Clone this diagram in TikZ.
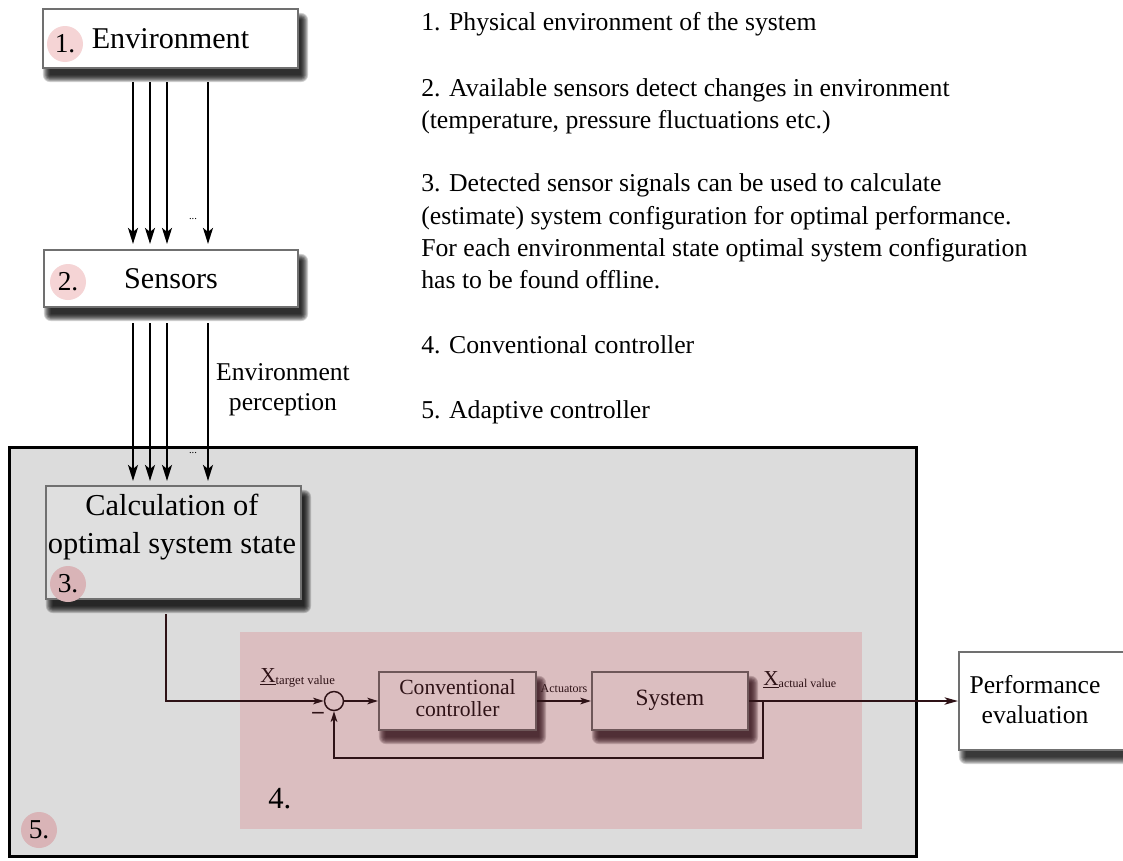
\documentclass[tikz,border=0pt]{standalone}
\usepackage{fontspec}
\setmainfont{Liberation Serif}
\usetikzlibrary{arrows.meta}

\definecolor{panelgray}{HTML}{DCDCDC}
\definecolor{loopbg}{HTML}{DBBEC0}
\definecolor{boxedge}{HTML}{707070}
\definecolor{loopedge}{HTML}{6E5759}
\definecolor{loopline}{HTML}{2E1216}
\definecolor{maroonshade}{HTML}{3C1A22}
\definecolor{markpale}{HTML}{F5D4D5}
\definecolor{markdeep}{HTML}{D9B4B7}
\definecolor{calcfill}{HTML}{DFDFDF}

\pgfdeclarelayer{panels}
\pgfdeclarelayer{shades}
\pgfsetlayers{panels,shades,main}

% soft drop shadow under node #1, colour #2, strength #3 (opacity per ring)
\newcommand\castshade[3]{%
  \begin{pgfonlayer}{shades}
    \foreach \k in {0,...,7} {
      \pgfmathsetmacro\nwx{(8-\k)*0.75}
      \pgfmathsetmacro\nwy{-(12-\k)*0.75}
      \pgfmathsetmacro\sex{(2+\k)*0.75}
      \pgfmathsetmacro\sey{-(6+\k)*0.75}
      \pgfmathsetmacro\rc{\k*0.75+0.01}
      \fill[#2, opacity=#3, rounded corners=\rc pt]
        ([xshift=\nwx pt, yshift=\nwy pt]#1.north west) rectangle
        ([xshift=\sex pt, yshift=\sey pt]#1.south east);
    }
  \end{pgfonlayer}}

\tikzset{
  whitebox/.style={draw=boxedge, line width=1.6pt, fill=white,
    inner sep=0pt, font=\fontsize{22.6}{26}\selectfont},
  calcbox/.style={draw=boxedge, line width=1.6pt, fill=calcfill, inner sep=0pt},
  loopbox/.style={draw=loopedge, line width=1.6pt, fill=loopbg, inner sep=0pt},
  marka/.style={circle, fill=markpale, minimum size=27pt, inner sep=0pt,
    font=\fontsize{20.5}{20.5}\selectfont},
  markb/.style={circle, fill=markdeep, minimum size=27pt, inner sep=0pt,
    font=\fontsize{20.5}{20.5}\selectfont},
  rtext/.style={anchor=base west, inner sep=0pt, font=\fontsize{19.3}{23}\selectfont},
  midtext/.style={anchor=base, inner sep=0pt, font=\fontsize{19.2}{23}\selectfont},
  boxtext/.style={anchor=base, inner sep=0pt, font=\fontsize{22.8}{26}\selectfont},
  looptext/.style={inner sep=0pt, text=loopline, font=\fontsize{16.2}{16.4}\selectfont},
  sigarrow/.style={line width=1.5pt, -{Stealth[length=12pt, width=7.5pt, inset=3pt]}},
  looparrow/.style={draw=loopline, line width=1.1pt, -{Stealth[length=8pt, width=5pt, inset=2pt]}},
  outarrow/.style={draw=loopline, line width=1.2pt, -{Stealth[length=10pt, width=5.5pt, inset=2.5pt]}},
  dots/.style={inner sep=0pt, font=\fontsize{8}{8}\selectfont}
}

\begin{document}
\begin{tikzpicture}[x=0.75pt, y=-0.75pt]
\clip (0,0) rectangle (1123,860);

% 5: adaptive controller panel and 4: conventional controller area
\begin{pgfonlayer}{panels}
  \fill[white] (0,0) rectangle (1123,860);
  \node[draw=black, line width=2.2pt, fill=panelgray, inner sep=0pt,
    minimum width=680.25pt, minimum height=306.75pt] (adaptive) at (463,652) {};
  \node[fill=loopbg, inner sep=0pt, minimum width=466.5pt, minimum height=147.75pt]
    (conventional) at (551,730.5) {};
\end{pgfonlayer}

% right-hand legend
\node[rtext] (r1) at (421,30)  {1. Physical environment of the system};
\node[rtext] (r2) at (421,96)  {2. Available sensors detect changes in environment};
\node[rtext] (r3) at (421,128) {(temperature, pressure fluctuations etc.)};
\node[rtext] (r4) at (421,191) {3. Detected sensor signals can be used to calculate};
\node[rtext] (r5) at (421,224) {(estimate) system configuration for optimal performance.};
\node[rtext] (r6) at (421,256) {For each environmental state optimal system configuration};
\node[rtext] (r7) at (421,288) {has to be found offline.};
\node[rtext] (r8) at (421,353) {4. Conventional controller};
\node[rtext] (r9) at (421,418) {5. Adaptive controller};

% environment and sensors
\node[whitebox, minimum width=191.25pt, minimum height=44.25pt] (env) at (170.5,38.5) {Environment};
\castshade{env}{black}{0.19}
\node[marka] (m1) at (65,44) {1.};
\node[whitebox, minimum width=190.5pt, minimum height=42.75pt] (sensors) at (171,278.5) {Sensors};
\castshade{sensors}{black}{0.19}
\node[marka] (m2) at (68,282) {2.};

\foreach \xx in {133,150,167,208}
  \draw[sigarrow, shorten <=9.75pt, shorten >=3.75pt] (\xx,0 |- env.south) -- (\xx,0 |- sensors.north);
\node[dots] (dotsa) at (193,219) {...};

% estimation of the optimal state
\node[calcbox, minimum width=191.25pt, minimum height=84.75pt] (calc) at (173.5,542.5) {};
\castshade{calc}{black}{0.19}
\node[boxtext] (calca) at (172,515) {Calculation of};
\node[boxtext] (calcb) at (172,553) {optimal system state};
\node[markb] (m3) at (68,584) {3.};

\foreach \xx in {133,150,167,208}
  \draw[sigarrow, shorten <=11.25pt, shorten >=3pt] (\xx,0 |- sensors.south) -- (\xx,0 |- calc.north);
\node[dots] (dotsb) at (193,453) {...};
\node[midtext] (pera) at (283,380) {Environment};
\node[midtext] (perb) at (283,410) {perception};

% control loop
\node[circle, draw=loopline, line width=1.1pt, fill=loopbg, minimum size=14.25pt, inner sep=0pt]
  (sum) at (334,701) {};
\node[anchor=base, inner sep=0pt, text=loopline, font=\fontsize{17}{17}\selectfont\bfseries]
  (minus) at (318,718) {–};
\node[loopbox, minimum width=117.75pt, minimum height=43.5pt] (conv) at (457.5,701) {};
\castshade{conv}{maroonshade}{0.22}
\node[looptext, align=center] (convl) at (457.5,698) {Conventional\\controller};
\node[loopbox, minimum width=117pt, minimum height=43.5pt] (sys) at (670,701) {};
\castshade{sys}{maroonshade}{0.22}
\node[looptext, anchor=base, font=\fontsize{17.5}{17.5}\selectfont] (sysl) at (670,705) {System};

\node[anchor=base west, inner sep=0pt, text=loopline] (xtarget) at (260,682)
  {\fontsize{16}{16}\selectfont\underline{X}\raisebox{-2pt}{\fontsize{9.5}{9.5}\selectfont target value}};
\node[anchor=base west, inner sep=0pt, text=loopline] (xactual) at (763,685)
  {\fontsize{16}{16}\selectfont\underline{X}\raisebox{-2pt}{\fontsize{9}{9}\selectfont actual value}};

\draw[looparrow, shorten <=10.5pt] (166,0 |- calc.south) |- (sum.west);
\draw[looparrow] (sum.east) -- (conv.west);
\draw[looparrow] (conv.east) -- node[midway, anchor=base, yshift=6.75pt, inner sep=0pt,
  text=loopline, font=\fontsize{9}{9}\selectfont] (act) {Actuators} (sys.west);

% performance evaluation
\node[whitebox, minimum width=135.75pt, minimum height=73.5pt] (perf) at (1049.5,701) {};
\castshade{perf}{black}{0.17}
\node[midtext] (perfa) at (1035,693) {Performance};
\node[midtext] (perfb) at (1035,723) {evaluation};
\draw[outarrow] (sys.east) -- (perf.west);

% feedback path
\coordinate (tap) at (763,701);
\draw[looparrow] (tap) -- (tap |- 0,758) -| (sum.south);

% numbered labels of the two controller levels
\node[anchor=base west, inner sep=0pt, font=\fontsize{23}{23}\selectfont] (n4) at (268,808) {4.};
\node[markb] (m5) at (39,830) {5.};
\end{tikzpicture}
\end{document}
